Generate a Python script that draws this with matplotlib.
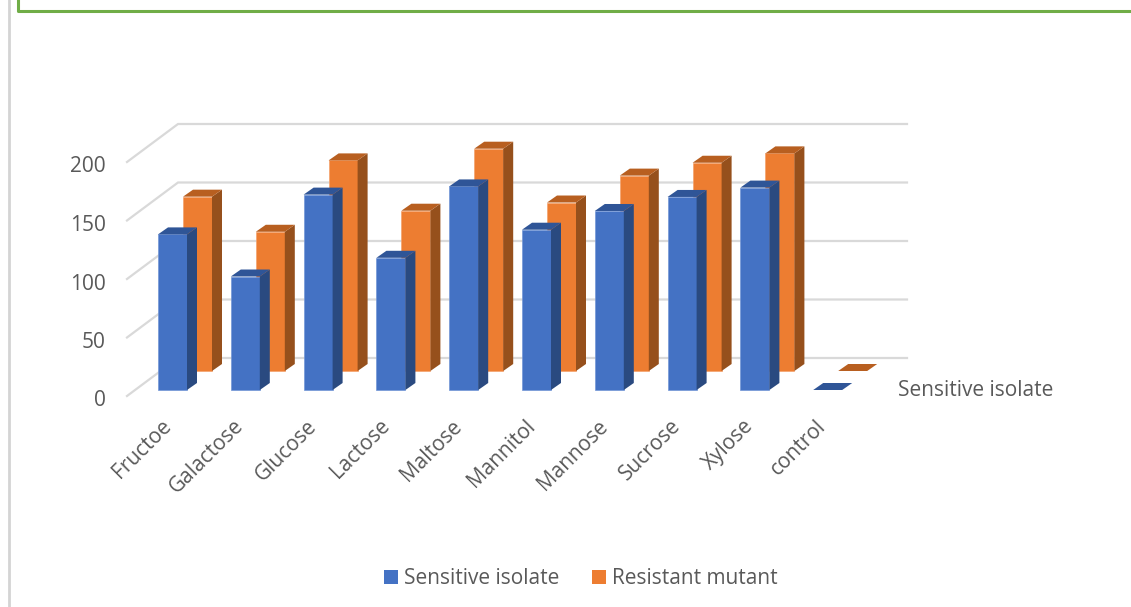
import matplotlib
matplotlib.use("Agg")
import matplotlib.pyplot as plt
from matplotlib.lines import Line2D
from matplotlib.patches import Patch

plt.rcParams["font.family"] = ["Open Sans", "DejaVu Sans"]

categories = ["Fructoe", "Galactose", "Glucose", "Lactose", "Maltose",
              "Mannitol", "Mannose", "Sucrose", "Xylose", "control"]
sensitive = [133, 97, 167, 113, 174, 137, 153, 165, 173, 0]
resistant = [149, 119, 180, 137, 190, 144, 167, 178, 186, 0]
y_ticks = [0, 50, 100, 150, 200]

W, H = 1131, 607
CAT_PX = 72.8      # pixels per category
VAL_PX = 1.17      # pixels per unit of value
X0_PX, Y0_PX = 158, 390

BAR_W = 29 / CAT_PX
SIDE_DX, SIDE_DY = 10 / CAT_PX, 7 / VAL_PX
ROW_DX, ROW_DY = 25 / CAT_PX, 19 / VAL_PX
WALL_X, WALL_Y = -31 / CAT_PX, -6 / VAL_PX
BACK_DX, BACK_DY = 51 / CAT_PX, 38 / VAL_PX
BACK_END = (907 - X0_PX) / CAT_PX

TEXT = "#595959"
GRID = "#d9d9d9"


def draw_bar(ax, x, y, width, value, front, side, top, edge, zorder):
    """Draw one oblique box: front, side and top faces."""
    if value > 0:
        ax.fill([x, x + width, x + width, x], [y, y, y + value, y + value],
                facecolor=front, linewidth=0.5, edgecolor=edge, zorder=zorder)
        ax.fill([x + width, x + width + SIDE_DX, x + width + SIDE_DX, x + width],
                [y, y + SIDE_DY, y + value + SIDE_DY, y + value],
                facecolor=side, linewidth=0, zorder=zorder)
    ax.fill([x, x + width, x + width + SIDE_DX, x + SIDE_DX],
            [y + value, y + value, y + value + SIDE_DY, y + value + SIDE_DY],
            facecolor=top, linewidth=0, zorder=zorder)


def main():
    fig = plt.figure(figsize=(W / 100, H / 100), dpi=100)
    ax = fig.add_axes([0, 0, 1, 1])
    ax.set_xlim(-X0_PX / CAT_PX, (W - X0_PX) / CAT_PX)
    ax.set_ylim((Y0_PX - H) / VAL_PX, Y0_PX / VAL_PX)
    ax.axis("off")

    # page furniture behind the chart
    fig.add_artist(Line2D([8.5 / W, 8.5 / W], [0, 1], color="#d4d4d4", lw=2))
    fig.add_artist(Line2D([17.5 / W, 17.5 / W, 1], [1, 1 - 11 / H, 1 - 11 / H],
                          color="#70ad47", lw=2.2))

    # wall and floor gridlines
    for v in y_ticks:
        x_pts = [WALL_X, WALL_X + BACK_DX, BACK_END]
        y_pts = [v + WALL_Y, v + WALL_Y + BACK_DY, v + WALL_Y + BACK_DY]
        ax.plot(x_pts, y_pts, color=GRID, lw=1.6, zorder=1, solid_joinstyle="miter")
        ax.text(-52 / CAT_PX, v + WALL_Y - 5 / VAL_PX, str(v), color=TEXT, fontsize=15,
                ha="right", va="center")

    # back row first so the front row covers it
    for i, v in enumerate(resistant):
        draw_bar(ax, i + ROW_DX, ROW_DY, BAR_W, v, "#ed7d31", "#96501c", "#b85f20", "#f4a26d", 2)
    for i, v in enumerate(sensitive):
        draw_bar(ax, i, 0, BAR_W, v, "#4472c4", "#2a4a80", "#2f5597", "#7396d6", 3)

    for i, name in enumerate(categories):
        ax.text(i + 10 / CAT_PX, -33 / VAL_PX, name, color=TEXT, fontsize=15, rotation=45,
                rotation_mode="anchor", ha="right", va="center")

    ax.text((898 - X0_PX) / CAT_PX, (Y0_PX - 391) / VAL_PX, "Sensitive isolate",
            color=TEXT, fontsize=15, ha="left", va="center")

    handles = [Patch(facecolor="#4472c4", label="Sensitive isolate"),
               Patch(facecolor="#ed7d31", label="Resistant mutant")]
    fig.legend(handles=handles, loc="center", bbox_to_anchor=(581 / W, 1 - 579 / H), ncol=2,
               frameon=False, fontsize=15, labelcolor=TEXT, handlelength=0.65,
               handleheight=0.65, handletextpad=0.3, columnspacing=1.57)

    fig.savefig("out.png", dpi=100)
    plt.close(fig)


if __name__ == "__main__":
    main()
